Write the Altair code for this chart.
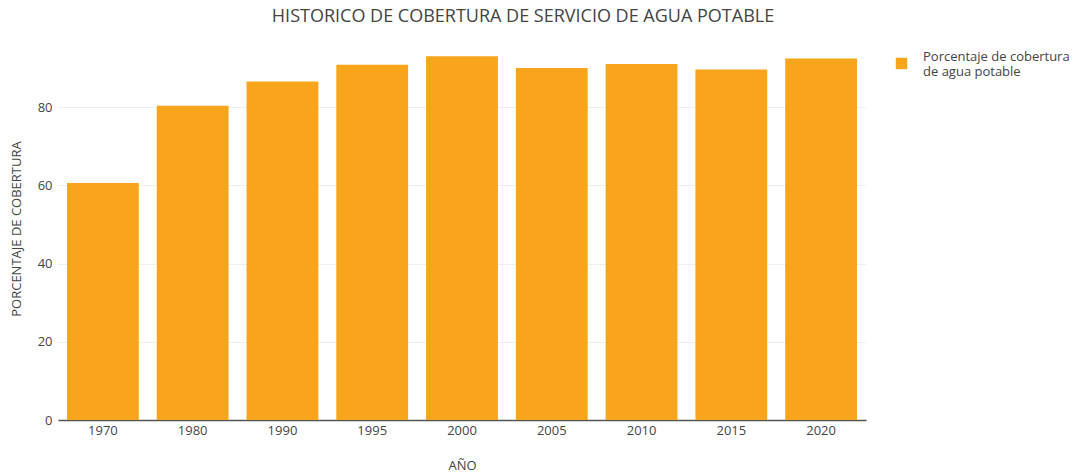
import altair as alt
import pandas as pd

years = ["1970", "1980", "1990", "1995", "2000", "2005", "2010", "2015", "2020"]
coverage = [60.6, 80.3, 86.5, 90.8, 93.0, 90.0, 91.0, 89.6, 92.4]
series_name = "Porcentaje de cobertura\nde agua potable"
y_ticks = [0, 20, 40, 60, 80]

df = pd.DataFrame({"year": years, "value": coverage, "serie": [series_name] * len(years)})

FONT = "Open Sans"
GRAY = "#444444"

chart = alt.Chart(df).mark_bar().encode(
    x=alt.X("year:N", sort=years,
            scale=alt.Scale(paddingInner=0.2, paddingOuter=0.1),
            axis=alt.Axis(title="AÑO", labelAngle=0, ticks=False, labelPadding=4,
                          domainColor="#555555", domainWidth=1.5,
                          titlePadding=22, titleFontWeight="normal")),
    y=alt.Y("value:Q", scale=alt.Scale(domain=[0, 97.9], nice=False),
            axis=alt.Axis(title="PORCENTAJE DE COBERTURA", values=y_ticks, ticks=False,
                          domain=False, labelPadding=6, gridColor="#eeeeee",
                          titlePadding=14, titleFontWeight="normal")),
    color=alt.Color("serie:N", scale=alt.Scale(range=["#F8A51B"]),
                    legend=alt.Legend(title=None, orient="none", legendX=837, legendY=20,
                                      symbolType="square", symbolSize=130,
                                      symbolStrokeWidth=0, labelOffset=15,
                                      labelLimit=300, labelBaseline="bottom",
                                      labelExpr="split(datum.label, '\\n')",
                                      labelFontSize=13, labelColor=GRAY, labelFont=FONT)),
).properties(
    width=808,
    height=383,
    padding={"left": 50, "top": 29, "right": 204, "bottom": 52},
    autosize=alt.AutoSizeParams(type="none"),
    title=alt.TitleParams("HISTORICO DE COBERTURA DE SERVICIO DE AGUA POTABLE",
                          font=FONT, fontSize=18, fontWeight="normal", color=GRAY,
                          anchor="middle", dx=61, offset=11),
).configure_axis(
    labelFont=FONT, titleFont=FONT, labelFontSize=13, titleFontSize=13,
    labelColor=GRAY, titleColor=GRAY,
).configure_view(stroke=None)

chart.save("out.html", embed_options={"renderer": "svg", "actions": False})
